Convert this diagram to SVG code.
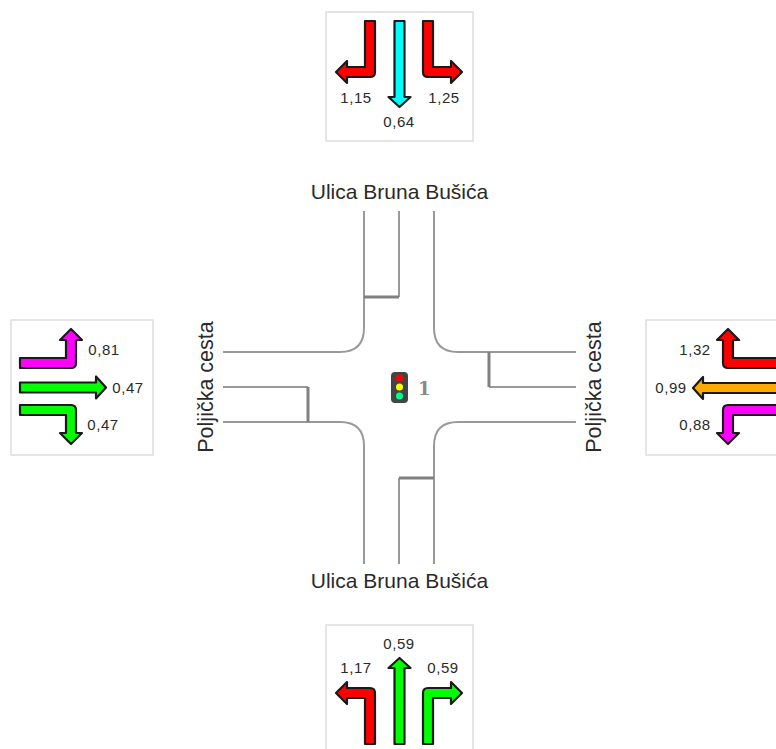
<svg xmlns="http://www.w3.org/2000/svg" width="776" height="749" viewBox="0 0 776 749">
<style>
text{font-family:"Liberation Sans",Arial,sans-serif;fill:#2a2a2a}
.v{font-size:15px;letter-spacing:.6px;text-anchor:middle}
.r{font-size:21px;text-anchor:middle}
.p{font-size:21.500px;text-anchor:middle}
.box{fill:#fff;stroke:#ddd;stroke-width:1.5}
.a{stroke:#1a1a1a;stroke-width:2.200;stroke-linejoin:round}
.l{fill:none;stroke:#999;stroke-width:2}
.s{fill:none;stroke:#808080;stroke-width:3}
</style>
<defs>
<path id="turn" d="M0 0H10V51Q10 56 5 56H-18V62L-29 51L-18 40V46H0Z"/>
<path id="str" d="M-5 0H5V76H11L0 86L-11 76H-5Z"/>
</defs>
<rect width="776" height="749" fill="#fff"/>
<g id="connectors">
<path class="l" d="M364 211V328Q364 352 340 352H223"/>
<path class="l" d="M434 211V328Q434 352 458 352H576"/>
<path class="l" d="M364 564V446Q364 422 340 422H223"/>
<path class="l" d="M434 564V446Q434 422 458 422H576"/>
<path class="l" d="M399 211V297"/>
<path class="l" d="M399 564V478"/>
<path class="l" d="M223 387H308"/>
<path class="l" d="M576 387H489"/>
<path class="s" d="M364 297H399"/>
<path class="s" d="M399 478H434"/>
<path class="s" d="M308 387V422"/>
<path class="s" d="M489 352V387"/>
</g>
<g id="signal">
<rect x="391" y="372" width="17" height="31" rx="4" fill="#444"/>
<circle cx="399.500" cy="378" r="3.500" fill="#f00"/>
<circle cx="399.500" cy="387" r="3.500" fill="#ff0"/>
<circle cx="399.500" cy="396" r="3.500" fill="#0f8"/>
<text x="418" y="395" style="font-family:'DejaVu Serif',serif;font-weight:bold;font-size:18px;fill:#888">1</text>
</g>
<g id="label-north"><text class="r" x="399.500" y="199">Ulica Bruna Bušića</text></g>
<g id="label-south"><text class="r" x="399.500" y="588">Ulica Bruna Bušića</text></g>
<g id="label-west"><text class="p" transform="translate(213 387) rotate(-90)">Poljička cesta</text></g>
<g id="label-east"><text class="p" transform="translate(601 387) rotate(-90)">Poljička cesta</text></g>
<g id="north">
<rect class="box" x="326" y="12" width="147" height="129"/>
<use href="#turn" class="a" fill="#f00" transform="translate(365 21)"/>
<use href="#str" class="a" fill="#0ff" transform="translate(399.500 21)"/>
<use href="#turn" class="a" fill="#f00" transform="translate(433 21) scale(-1 1)"/>
<text class="v" x="356" y="103">1,15</text>
<text class="v" x="399" y="127">0,64</text>
<text class="v" x="444" y="103">1,25</text>
</g>
<g id="south">
<rect class="box" x="326" y="625" width="147" height="129"/>
<use href="#turn" class="a" fill="#f00" transform="translate(365 744) scale(1 -1)"/>
<use href="#str" class="a" fill="#0f0" transform="translate(399.500 744) scale(1 -1)"/>
<use href="#turn" class="a" fill="#0f0" transform="translate(433 744) scale(-1 -1)"/>
<text class="v" x="356" y="673">1,17</text>
<text class="v" x="399" y="649">0,59</text>
<text class="v" x="443" y="673">0,59</text>
</g>
<g id="west">
<rect class="box" x="11" y="320" width="142" height="135"/>
<use href="#turn" class="a" fill="#f0f" transform="matrix(0 1 1 0 20 358)"/>
<use href="#str" class="a" fill="#0f0" transform="matrix(0 1 1 0 20 387.500)"/>
<use href="#turn" class="a" fill="#0f0" transform="matrix(0 -1 1 0 20 415)"/>
<text class="v" x="104" y="355">0,81</text>
<text class="v" x="128" y="393">0,47</text>
<text class="v" x="103" y="430">0,47</text>
</g>
<g id="east">
<rect class="box" x="646" y="320" width="147" height="135"/>
<use href="#turn" class="a" fill="#f00" transform="matrix(0 1 -1 0 779 358)"/>
<use href="#str" class="a" fill="#fa0" transform="matrix(0 1 -1 0 779 388)"/>
<use href="#turn" class="a" fill="#f0f" transform="matrix(0 -1 -1 0 779 415)"/>
<text class="v" x="695" y="355">1,32</text>
<text class="v" x="671" y="393">0,99</text>
<text class="v" x="695" y="430">0,88</text>
</g>
</svg>
